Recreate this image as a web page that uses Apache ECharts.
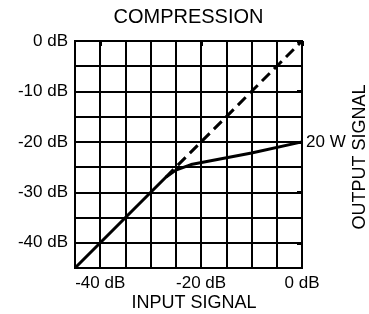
<!DOCTYPE html>
<html>
<head>
<meta charset="utf-8">
<script src="https://cdn.jsdelivr.net/npm/echarts@6/dist/echarts.min.js"></script>
<style>
  html, body { margin: 0; padding: 0; background: #fff; }
  #chart { width: 369px; height: 314px; }
</style>
</head>
<body>
<div id="chart"></div>
<script>
// data
var inputDb  = [-45, -27, -25, -22, -10, 0];
var outputDb = [-45, -27, -25.6, -24.5, -22.2, -20];
var linearIn  = [-27, 0];
var linearOut = [-27, 0];
var xTickValues = [-40, -20, 0];
var yTickValues = [0, -10, -20, -30, -40];
var rightTickValues = [-20];
var rightTickText = '20 W';

var FONT = 'Liberation Sans, Arial, sans-serif';

var chart = echarts.init(document.getElementById('chart'));

function zip(a, b) {
    return a.map(function (v, i) { return [v, b[i]]; });
}

var gridAxis = {
    type: 'value',
    min: -45,
    max: 0,
    interval: 5,
    axisLine: { show: true, lineStyle: { color: '#000', width: 2 } },
    axisTick: { show: false },
    axisLabel: { show: false },
    splitLine: { show: true, lineStyle: { color: '#000', width: 2 } }
};

function tickAxis(pos, values, fmt, showTick) {
    return {
        type: 'value',
        position: pos,
        min: -45,
        max: 0,
        axisLine: { show: false },
        splitLine: { show: false },
        axisTick: {
            show: showTick,
            customValues: values,
            length: 5,
            lineStyle: { color: '#000', width: 3 }
        },
        axisLabel: {
            customValues: values,
            formatter: fmt,
            color: '#000',
            fontFamily: FONT,
            fontSize: 17,
            margin: pos === 'right' ? 4 : 7
        }
    };
}

var option = {
    animation: false,
    grid: { left: 75, right: 67, top: 41, bottom: 46, show: true, borderColor: '#000', borderWidth: 2 },
    xAxis: [
        gridAxis,
        tickAxis('bottom', xTickValues, function (v) { return v + ' dB'; }, true)
    ],
    yAxis: [
        gridAxis,
        tickAxis('left', yTickValues, function (v) { return v + ' dB'; }, true),
        tickAxis('right', rightTickValues, function () { return rightTickText; }, false)
    ],
    graphic: [
        { type: 'text', x: 188.5, y: 17, style: { text: 'COMPRESSION', fill: '#000', font: '20px ' + FONT, align: 'center', verticalAlign: 'middle' } },
        { type: 'text', x: 194, y: 303, style: { text: 'INPUT SIGNAL', fill: '#000', font: '18px ' + FONT, align: 'center', verticalAlign: 'middle' } },
        { type: 'text', x: 360, y: 157, rotation: Math.PI / 2, style: { text: 'OUTPUT SIGNAL', fill: '#000', font: '18px ' + FONT, align: 'center', verticalAlign: 'middle' } }
    ],
    series: [
        {
            type: 'line',
            xAxisIndex: 0,
            yAxisIndex: 0,
            data: zip(linearIn, linearOut),
            symbol: 'none',
            lineStyle: { color: '#000', width: 3, type: [11, 6] },
            z: 3
        },
        {
            type: 'line',
            xAxisIndex: 0,
            yAxisIndex: 0,
            data: zip(inputDb, outputDb),
            symbol: 'none',
            lineStyle: { color: '#000', width: 3 },
            z: 4
        }
    ]
};

chart.setOption(option);
</script>
</body>
</html>
